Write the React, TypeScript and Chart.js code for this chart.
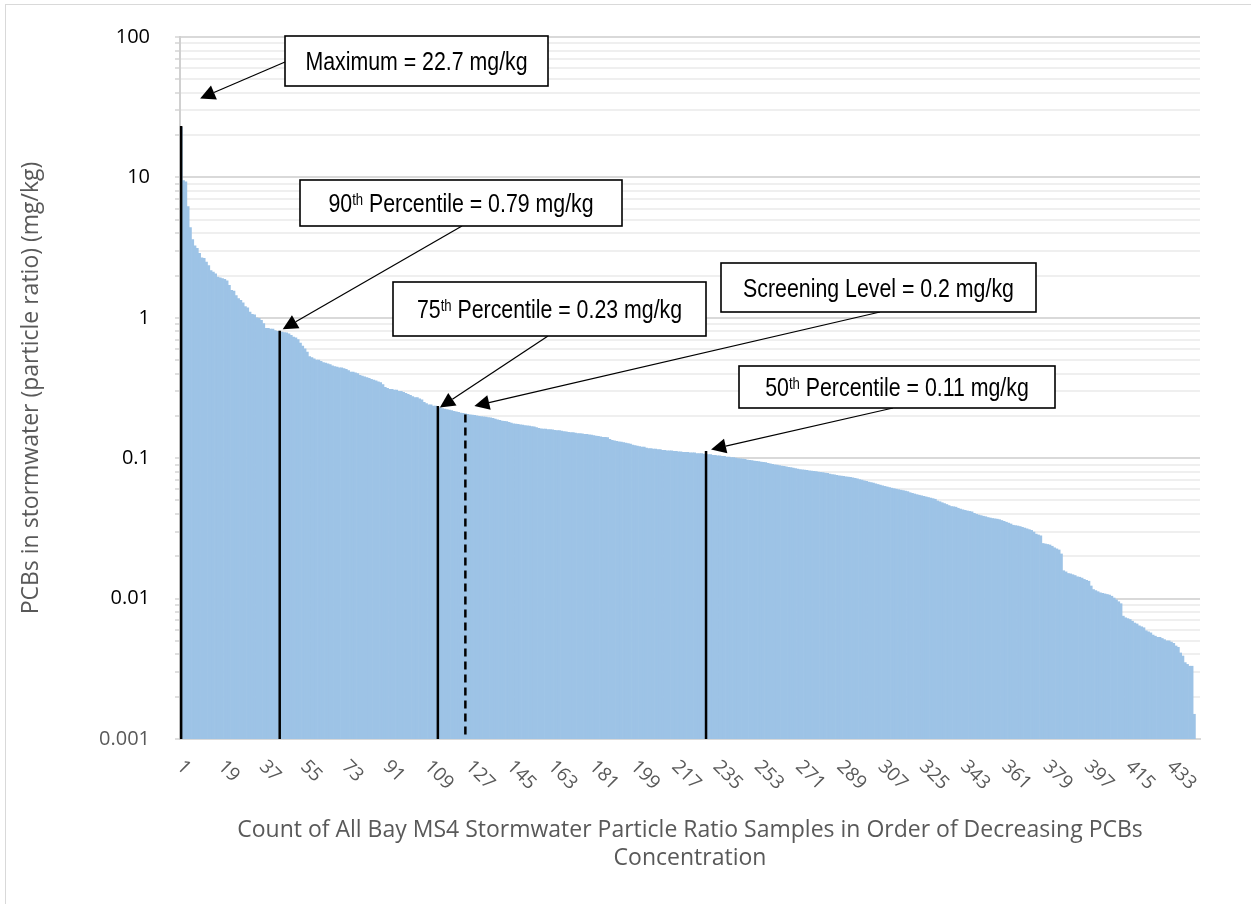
import React, { useEffect, useRef } from "react";
import { Chart, registerables } from "chart.js";

Chart.register(...registerables);

// PCBs (mg/kg) of each Bay MS4 stormwater particle-ratio sample, ranked by decreasing concentration
const pcbValues: number[] = [
  22.7, 9.5, 9.3, 6.2, 4.4, 3.6, 3.26, 3.13, 2.88, 2.67,
  2.65, 2.49, 2.35, 2.17, 2.12, 2.06, 1.95, 1.93, 1.9, 1.88,
  1.83, 1.7, 1.57, 1.55, 1.44, 1.37, 1.33, 1.28, 1.2, 1.18,
  1.1, 1.06, 1.05, 1.0, 0.99, 0.96, 0.91, 0.84, 0.84, 0.83,
  0.83, 0.81, 0.8, 0.79, 0.79, 0.785, 0.78, 0.77, 0.75, 0.73,
  0.72, 0.7, 0.66, 0.63, 0.6, 0.57, 0.53, 0.52, 0.51, 0.5,
  0.5, 0.49, 0.48, 0.475, 0.47, 0.465, 0.455, 0.45, 0.445, 0.44,
  0.44, 0.435, 0.43, 0.42, 0.41, 0.41, 0.405, 0.4, 0.39, 0.385,
  0.38, 0.375, 0.37, 0.365, 0.36, 0.355, 0.35, 0.345, 0.335, 0.32,
  0.315, 0.31, 0.31, 0.305, 0.305, 0.3, 0.3, 0.295, 0.29, 0.285,
  0.28, 0.275, 0.27, 0.27, 0.265, 0.26, 0.25, 0.245, 0.24, 0.24,
  0.235, 0.235, 0.23, 0.228, 0.226, 0.224, 0.222, 0.22, 0.218, 0.216,
  0.214, 0.212, 0.21, 0.209, 0.207, 0.205, 0.204, 0.203, 0.202, 0.2,
  0.199, 0.198, 0.197, 0.196, 0.195, 0.194, 0.192, 0.19, 0.188, 0.186,
  0.184, 0.183, 0.182, 0.18, 0.178, 0.176, 0.175, 0.174, 0.173, 0.172,
  0.171, 0.17, 0.169, 0.168, 0.167, 0.165, 0.163, 0.162, 0.161, 0.161,
  0.16, 0.16, 0.159, 0.158, 0.157, 0.157, 0.156, 0.155, 0.154, 0.153,
  0.152, 0.152, 0.151, 0.15, 0.15, 0.149, 0.148, 0.148, 0.147, 0.146,
  0.145, 0.144, 0.143, 0.142, 0.141, 0.141, 0.14, 0.136, 0.134, 0.133,
  0.132, 0.131, 0.13, 0.129, 0.128, 0.127, 0.126, 0.124, 0.123, 0.122,
  0.121, 0.12, 0.12, 0.118, 0.117, 0.117, 0.116, 0.116, 0.115, 0.115,
  0.114, 0.114, 0.113, 0.113, 0.113, 0.112, 0.112, 0.111, 0.111, 0.11,
  0.11, 0.11, 0.109, 0.109, 0.109, 0.108, 0.108, 0.108, 0.107, 0.107,
  0.106, 0.106, 0.105, 0.105, 0.104, 0.104, 0.103, 0.103, 0.102, 0.102,
  0.101, 0.101, 0.1, 0.0995, 0.099, 0.0985, 0.098, 0.097, 0.0965, 0.096,
  0.0955, 0.095, 0.0945, 0.094, 0.0935, 0.093, 0.092, 0.0912, 0.0905, 0.0898,
  0.0892, 0.0886, 0.088, 0.0874, 0.0868, 0.0862, 0.0856, 0.085, 0.0843, 0.0836,
  0.083, 0.0826, 0.0822, 0.0818, 0.0814, 0.081, 0.0806, 0.0802, 0.0798, 0.0794,
  0.079, 0.0785, 0.078, 0.0772, 0.0765, 0.076, 0.0755, 0.075, 0.0746, 0.0742,
  0.0738, 0.0734, 0.073, 0.0725, 0.072, 0.0712, 0.0705, 0.0698, 0.069, 0.0683,
  0.0676, 0.067, 0.0664, 0.0658, 0.065, 0.0643, 0.0636, 0.063, 0.0624, 0.0618,
  0.0612, 0.0607, 0.0602, 0.0597, 0.0592, 0.0588, 0.0583, 0.0578, 0.0568, 0.0562,
  0.0556, 0.055, 0.0545, 0.054, 0.0535, 0.053, 0.0525, 0.052, 0.0515, 0.051,
  0.0496, 0.049, 0.0482, 0.0475, 0.0468, 0.046, 0.0453, 0.0451, 0.0448, 0.044,
  0.0434, 0.0429, 0.0425, 0.0421, 0.0418, 0.0415, 0.0405, 0.0399, 0.0394, 0.039,
  0.0386, 0.0383, 0.0378, 0.0375, 0.0372, 0.037, 0.0368, 0.0365, 0.036, 0.0355,
  0.035, 0.0345, 0.034, 0.0333, 0.0331, 0.0329, 0.0326, 0.0322, 0.0318, 0.0314,
  0.031, 0.0306, 0.0298, 0.0288, 0.0284, 0.028, 0.0247, 0.0245, 0.0243, 0.0241,
  0.0236, 0.023, 0.0226, 0.0222, 0.0208, 0.0158, 0.0155, 0.0151, 0.015, 0.0148,
  0.0146, 0.0143, 0.0142, 0.014, 0.0137, 0.0135, 0.0133, 0.0123, 0.0116, 0.0114,
  0.0112, 0.011, 0.0109, 0.0108, 0.0107, 0.0106, 0.0104, 0.0101, 0.0098, 0.0095,
  0.0092, 0.0075, 0.0073, 0.0072, 0.0071, 0.0069, 0.0067, 0.0066, 0.0064, 0.0063,
  0.0062, 0.0059, 0.0058, 0.0057, 0.0055, 0.0054, 0.0053, 0.0053, 0.0052, 0.0051,
  0.005, 0.005, 0.0049, 0.0048, 0.0046, 0.0045, 0.0041, 0.0039, 0.0035, 0.0034,
  0.0033, 0.0033, 0.0015,
];

// Total number of sample slots on the category axis (the last ones fall below the axis minimum)
const sampleCount = 445;
const sampleLabels: string[] = Array.from({ length: sampleCount }, (_, i) => String(i + 1));
const xLabelStep = 18;

// Y axis (log) decades and their labels
const yMajorValues = [0.001, 0.01, 0.1, 1, 10, 100];
const yTickLabels = ["0.001", "0.01", "0.1", "1", "10", "100"];

// Reference markers: rank of the sample, value (mg/kg), callout text
const markerNames = ["Maximum", "90", "75", "50", "Screening Level"];
const markerSup = ["", "th", "th", "th", ""];
const markerSuffix = ["", " Percentile", " Percentile", " Percentile", ""];
const markerValues = [22.7, 0.79, 0.23, 0.11, 0.2];
const markerRanks = [1, 44, 113, 230, 125];
const markerDashed = [false, false, false, false, true];

// Callout layout (pixels): box, arrow start, arrow tip offset from the marker top
const calloutBoxes = [
  { x: 285, y: 36, w: 263, h: 50 },
  { x: 300, y: 180, w: 322, h: 46 },
  { x: 393, y: 282, w: 313, h: 54 },
  { x: 739, y: 366, w: 316, h: 42 },
  { x: 721, y: 263, w: 315, h: 49 },
];
const arrowStarts = [
  { x: 285, y: 62 },
  { x: 462, y: 226 },
  { x: 548, y: 336 },
  { x: 893, y: 408 },
  { x: 880, y: 312 },
];
const arrowTipOffsets = [
  { dx: 19, dy: -29 },
  { dx: 3, dy: -3 },
  { dx: 2, dy: 0 },
  { dx: 5, dy: -3 },
  { dx: 9, dy: -10 },
];

const BAR_COLOR = "#9dc3e6";
const GRAY_TEXT = "#595959";
const UI_FONT = '"Open Sans", "Liberation Sans", sans-serif';
const BOX_FONT = '"Liberation Sans", Arial, sans-serif';

function isMajor(v: number) {
  return yMajorValues.some((m) => Math.abs(m - v) / m < 1e-6);
}

function buildLogTicks() {
  const ticks: { value: number; major: boolean }[] = [];
  for (let d = 0; d < yMajorValues.length - 1; d++) {
    for (let m = 1; m <= 9; m++) {
      const v = Number((m * yMajorValues[d]).toPrecision(6));
      ticks.push({ value: v, major: m === 1 });
    }
  }
  ticks.push({ value: yMajorValues[yMajorValues.length - 1], major: true });
  return ticks;
}

function drawArrow(ctx: CanvasRenderingContext2D, x1: number, y1: number, x2: number, y2: number) {
  const ang = Math.atan2(y2 - y1, x2 - x1);
  const headLen = 15;
  const headHalf = 7.5;
  const bx = x2 - headLen * Math.cos(ang);
  const by = y2 - headLen * Math.sin(ang);
  ctx.save();
  ctx.strokeStyle = "#000";
  ctx.fillStyle = "#000";
  ctx.lineWidth = 1.25;
  ctx.beginPath();
  ctx.moveTo(x1, y1);
  ctx.lineTo(bx, by);
  ctx.stroke();
  ctx.beginPath();
  ctx.moveTo(x2, y2);
  ctx.lineTo(bx - headHalf * Math.sin(ang), by + headHalf * Math.cos(ang));
  ctx.lineTo(bx + headHalf * Math.sin(ang), by - headHalf * Math.cos(ang));
  ctx.closePath();
  ctx.fill();
  ctx.restore();
}

function drawCallout(
  ctx: CanvasRenderingContext2D,
  box: { x: number; y: number; w: number; h: number },
  base: string,
  sup: string,
  rest: string
) {
  ctx.save();
  ctx.fillStyle = "#ffffff";
  ctx.fillRect(box.x, box.y, box.w, box.h);
  ctx.strokeStyle = "#000";
  ctx.lineWidth = 1.6;
  ctx.strokeRect(box.x, box.y, box.w, box.h);

  const size = 26;
  const squeeze = 0.82;
  const mainFont = `${size}px ${BOX_FONT}`;
  const supFont = `${Math.round(size * 0.62)}px ${BOX_FONT}`;
  ctx.font = mainFont;
  const w1 = ctx.measureText(base).width;
  const w3 = ctx.measureText(rest).width;
  ctx.font = supFont;
  const w2 = sup ? ctx.measureText(sup).width : 0;
  const total = (w1 + w2 + w3) * squeeze;

  ctx.translate(box.x + box.w / 2 - total / 2, box.y + box.h / 2 + size * 0.36);
  ctx.scale(squeeze, 1);
  ctx.fillStyle = "#000";
  ctx.textAlign = "left";
  ctx.textBaseline = "alphabetic";
  ctx.font = mainFont;
  ctx.fillText(base, 0, 0);
  if (sup) {
    ctx.font = supFont;
    ctx.fillText(sup, w1, -size * 0.3);
  }
  ctx.font = mainFont;
  ctx.fillText(rest, w1 + w2, 0);
  ctx.restore();
}

const overlayPlugin = {
  id: "overlay",
  afterDatasetsDraw(chart: any) {
    const { ctx, chartArea } = chart;
    const xs = chart.scales.x;
    const ys = chart.scales.y;
    // percentile / maximum / screening level lines
    markerRanks.forEach((rank, k) => {
      const px = xs.getPixelForValue(rank - 1);
      const py = ys.getPixelForValue(markerValues[k]);
      ctx.save();
      ctx.strokeStyle = "#000";
      ctx.lineWidth = 2.5;
      if (markerDashed[k]) ctx.setLineDash([8, 5]);
      ctx.beginPath();
      ctx.moveTo(px, py - 1.5);
      ctx.lineTo(px, chartArea.bottom);
      ctx.stroke();
      ctx.restore();
    });
  },
  afterDraw(chart: any) {
    const { ctx, chartArea } = chart;
    const xs = chart.scales.x;
    const ys = chart.scales.y;

    // rotated category labels
    ctx.save();
    ctx.font = `19px ${UI_FONT}`;
    ctx.fillStyle = GRAY_TEXT;
    ctx.textAlign = "left";
    ctx.textBaseline = "middle";
    for (let i = 0; i < sampleLabels.length; i += xLabelStep) {
      const px = xs.getPixelForValue(i);
      ctx.save();
      ctx.translate(px, chartArea.bottom + 26);
      ctx.rotate(Math.PI / 4);
      ctx.fillText(sampleLabels[i], -2, 0);
      ctx.restore();
    }
    ctx.restore();

    // callouts with arrows
    markerRanks.forEach((rank, k) => {
      const px = xs.getPixelForValue(rank - 1);
      const py = ys.getPixelForValue(markerValues[k]);
      const tip = { x: px + arrowTipOffsets[k].dx, y: py + arrowTipOffsets[k].dy };
      drawArrow(ctx, arrowStarts[k].x, arrowStarts[k].y, tip.x, tip.y);
      drawCallout(
        ctx,
        calloutBoxes[k],
        markerNames[k],
        markerSup[k],
        `${markerSuffix[k]} = ${markerValues[k]} mg/kg`
      );
    });

    // chart frame
    ctx.save();
    ctx.strokeStyle = "#d9d9d9";
    ctx.lineWidth = 1;
    ctx.strokeRect(5.5, 4.5, 1260, 920);
    ctx.restore();
  },
};

export default function App() {
  const canvasRef = useRef<HTMLCanvasElement | null>(null);

  useEffect(() => {
    if (!canvasRef.current) return;
    const chart = new Chart(canvasRef.current, {
      type: "bar",
      data: {
        labels: sampleLabels,
        datasets: [
          {
            data: pcbValues,
            backgroundColor: BAR_COLOR,
            borderWidth: 0,
            barPercentage: 1,
            categoryPercentage: 1,
          },
        ],
      },
      options: {
        responsive: false,
        animation: false,
        devicePixelRatio: 1,
        layout: { padding: { top: 31, right: 51, left: 0, bottom: 0 } },
        plugins: {
          legend: { display: false },
          tooltip: { enabled: false },
        },
        scales: {
          x: {
            type: "category",
            grid: { display: false },
            border: { display: true, color: "#d9d9d9", width: 2 },
            ticks: { display: false },
            title: {
              display: true,
              text: [
                "Count of All Bay MS4 Stormwater Particle Ratio Samples in Order of Decreasing PCBs",
                "Concentration",
              ],
              color: GRAY_TEXT,
              font: { family: UI_FONT, size: 23, lineHeight: 28 / 23 },
              padding: { top: 0, bottom: 32 },
            },
            afterFit: (scale: any) => {
              scale.height = 165;
            },
          },
          y: {
            type: "logarithmic",
            min: yMajorValues[0],
            max: yMajorValues[yMajorValues.length - 1],
            afterBuildTicks: (scale: any) => {
              scale.ticks = buildLogTicks();
            },
            afterFit: (scale: any) => {
              scale.width = 180;
            },
            grid: {
              color: (c: any) => (isMajor(c.tick.value) ? "#d9d9d9" : "#efefef"),
              lineWidth: 2,
              tickLength: 5,
              tickColor: "#bfbfbf",
              tickWidth: 1,
            },
            border: { display: true, color: "#d0d0d0", width: 2 },
            ticks: {
              autoSkip: false,
              padding: 25,
              font: { family: UI_FONT, size: 20 },
              color: (c: any) => (Math.abs(c.tick.value - yMajorValues[0]) < 1e-9 ? GRAY_TEXT : "#000000"),
              callback: (value: any) => {
                const v = Number(value);
                const idx = yMajorValues.findIndex((m) => Math.abs(m - v) / m < 1e-6);
                return idx >= 0 ? yTickLabels[idx] : "";
              },
            },
            title: {
              display: true,
              text: "PCBs in stormwater (particle ratio) (mg/kg)",
              color: GRAY_TEXT,
              font: { family: UI_FONT, size: 23 },
              padding: { top: 18, bottom: 0 },
            },
          },
        },
      },
      plugins: [overlayPlugin],
    } as any);
    return () => chart.destroy();
  }, []);

  return (
    <div
      style={{
        position: "fixed",
        left: 0,
        top: 0,
        width: 1251,
        height: 904,
        background: "#ffffff",
      }}
    >
      <canvas ref={canvasRef} width={1251} height={904} style={{ display: "block", width: 1251, height: 904 }} />
    </div>
  );
}
